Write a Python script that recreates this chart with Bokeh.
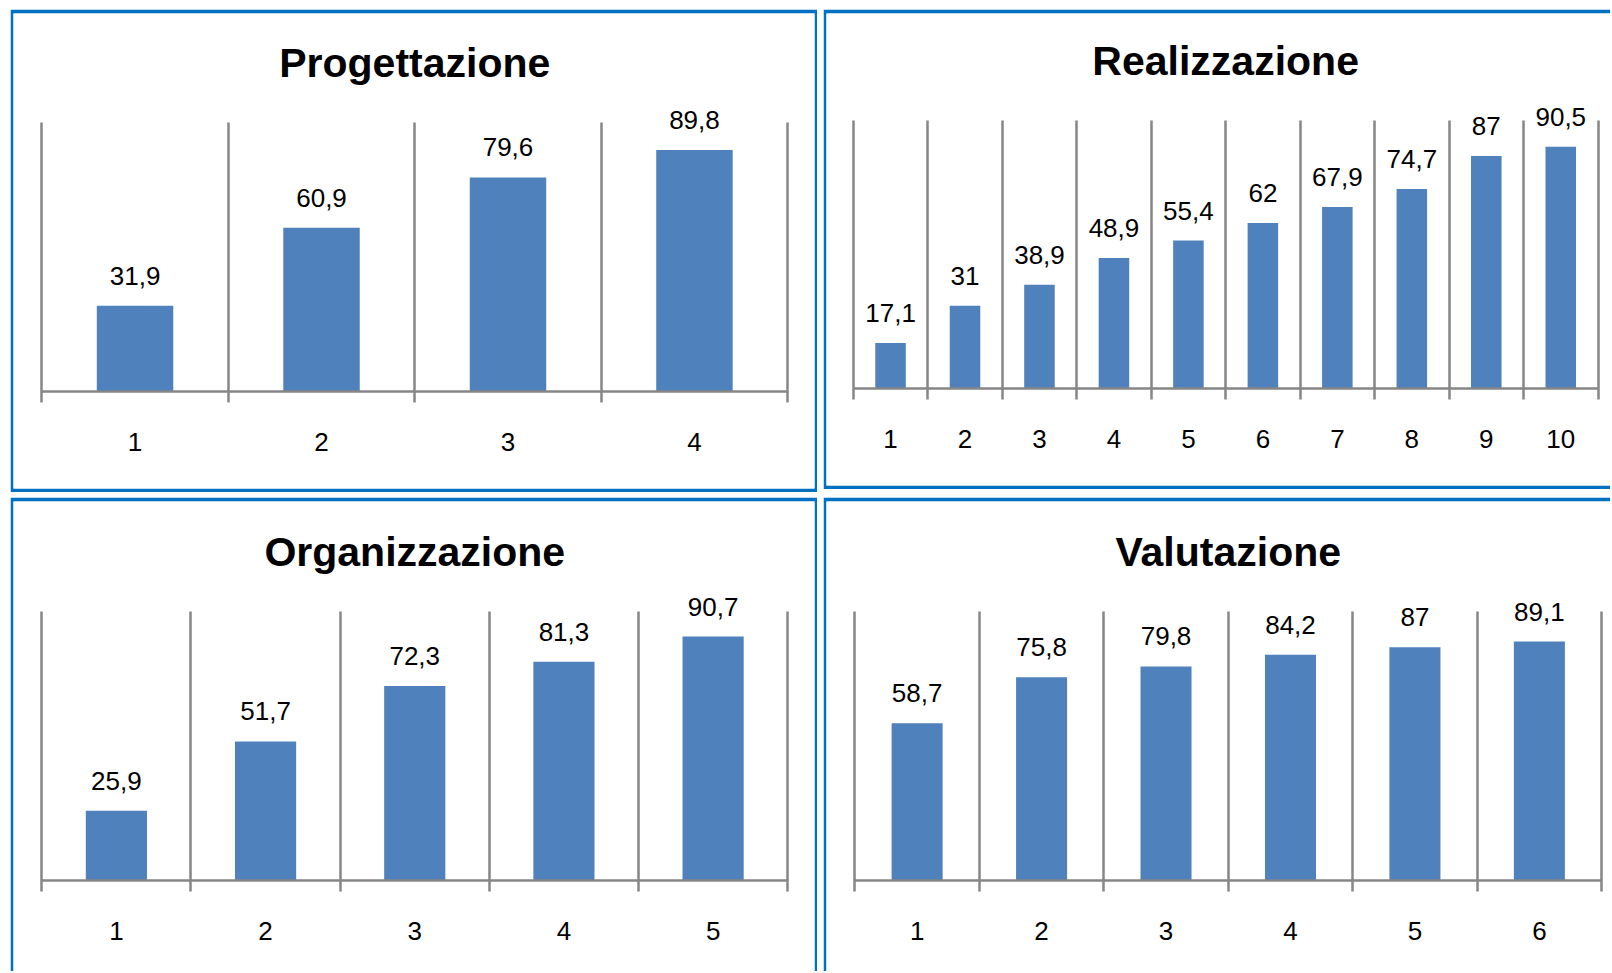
from bokeh.plotting import figure
from bokeh.models import Range1d, LinearAxis, FixedTicker, Label
from bokeh.layouts import column, row
from bokeh.embed import file_html
from bokeh.resources import INLINE
from bokeh.core.properties import value

# ---------------- data ----------------
prog_title = "Progettazione"
prog_cats = ["1", "2", "3", "4"]
prog_vals = [31.9, 60.9, 79.6, 89.8]

real_title = "Realizzazione"
real_cats = ["1", "2", "3", "4", "5", "6", "7", "8", "9", "10"]
real_vals = [17.1, 31, 38.9, 48.9, 55.4, 62, 67.9, 74.7, 87, 90.5]

org_title = "Organizzazione"
org_cats = ["1", "2", "3", "4", "5"]
org_vals = [25.9, 51.7, 72.3, 81.3, 90.7]

val_title = "Valutazione"
val_cats = ["1", "2", "3", "4", "5", "6"]
val_vals = [58.7, 75.8, 79.8, 84.2, 87, 89.1]

# ---------------- style ----------------
BLUE = "#0070C0"
BAR = "#4F81BD"
GRAY = "#868686"
FONT = "Liberation Sans"


def fmt(v):
    return f"{v:g}".replace(".", ",")


def panel(title, cats, vals, origin, size, borders, plot_box):
    ox, oy = origin
    w, h = size
    bl, br, bt, bb = borders
    fx0, fx1 = ox + bl, ox + w - br
    fy0, fy1 = oy + bt, oy + h - bb
    gx0, gx1, gy_top, gy_base = plot_box
    n = len(cats)
    u = (gx1 - gx0) / n
    xs = 0.5 - (gx0 - fx0) / u
    xe = n + 0.5 + (fx1 - gx1) / u
    v = (gy_base - gy_top) / 100.0
    ys = -(fy1 - gy_base) / v
    ye = 100 + (gy_top - fy0) / v

    p = figure(width=w, height=h, x_range=Range1d(xs, xe), y_range=Range1d(ys, ye),
               output_backend="svg", toolbar_location=None,
               x_axis_location=None, y_axis_location=None,
               min_border_left=bl, min_border_right=br,
               min_border_top=bt, min_border_bottom=bb,
               border_fill_color=BLUE, background_fill_color="white",
               outline_line_color=None)
    p.grid.grid_line_color = None

    pos = list(range(1, n + 1))
    p.vbar(x=pos, top=vals, bottom=0, width=0.41, fill_color=BAR, line_color=None)
    p.text(x=pos, y=vals, text=[fmt(x) for x in vals], text_align="center",
           text_baseline="alphabetic", y_offset=-30,
           text_font=value(FONT), text_font_size="26px", text_color="black")

    ax = LinearAxis(fixed_location=0, bounds=(0.5, n + 0.5),
                    ticker=FixedTicker(ticks=pos, minor_ticks=[i + 0.5 for i in range(n + 1)]),
                    major_label_overrides={i + 1: c for i, c in enumerate(cats)},
                    axis_line_color=GRAY, axis_line_width=2.5,
                    major_tick_line_color=None, major_tick_in=0, major_tick_out=0,
                    minor_tick_line_color=GRAY, minor_tick_line_width=2.5,
                    minor_tick_in=int(round(gy_base - gy_top)), minor_tick_out=11,
                    major_label_standoff=30, major_label_text_font=FONT,
                    major_label_text_font_size="26px", major_label_text_color="black")
    p.add_layout(ax, "below")

    p.add_layout(Label(x=(n + 1) / 2, y=100, y_offset=60, text=title,
                       text_align="center", text_baseline="alphabetic",
                       text_font=FONT, text_font_style="bold", text_font_size="41px",
                       text_color="black"))
    return p


p1 = panel(prog_title, prog_cats, prog_vals, (10, 9), (807, 483), (3, 3, 4, 4),
           (41.3, 787.2, 122, 391))
p2 = panel(real_title, real_cats, real_vals, (823, 9), (787, 480), (3, 0, 4, 3),
           (852.8, 1597.5, 121, 389))
p3 = panel(org_title, org_cats, org_vals, (10, 497), (807, 474), (3, 3, 4, 0),
           (41.3, 787.2, 611, 880))
p4 = panel(val_title, val_cats, val_vals, (823, 497), (787, 474), (3, 0, 3, 0),
           (854.4, 1601.1, 611, 880))

layout = column(row(p1, p2, spacing=6), row(p3, p4, spacing=6), spacing=5, margin=(9, 0, 0, 10))

open("out.html", "w").write(file_html(layout, INLINE))
